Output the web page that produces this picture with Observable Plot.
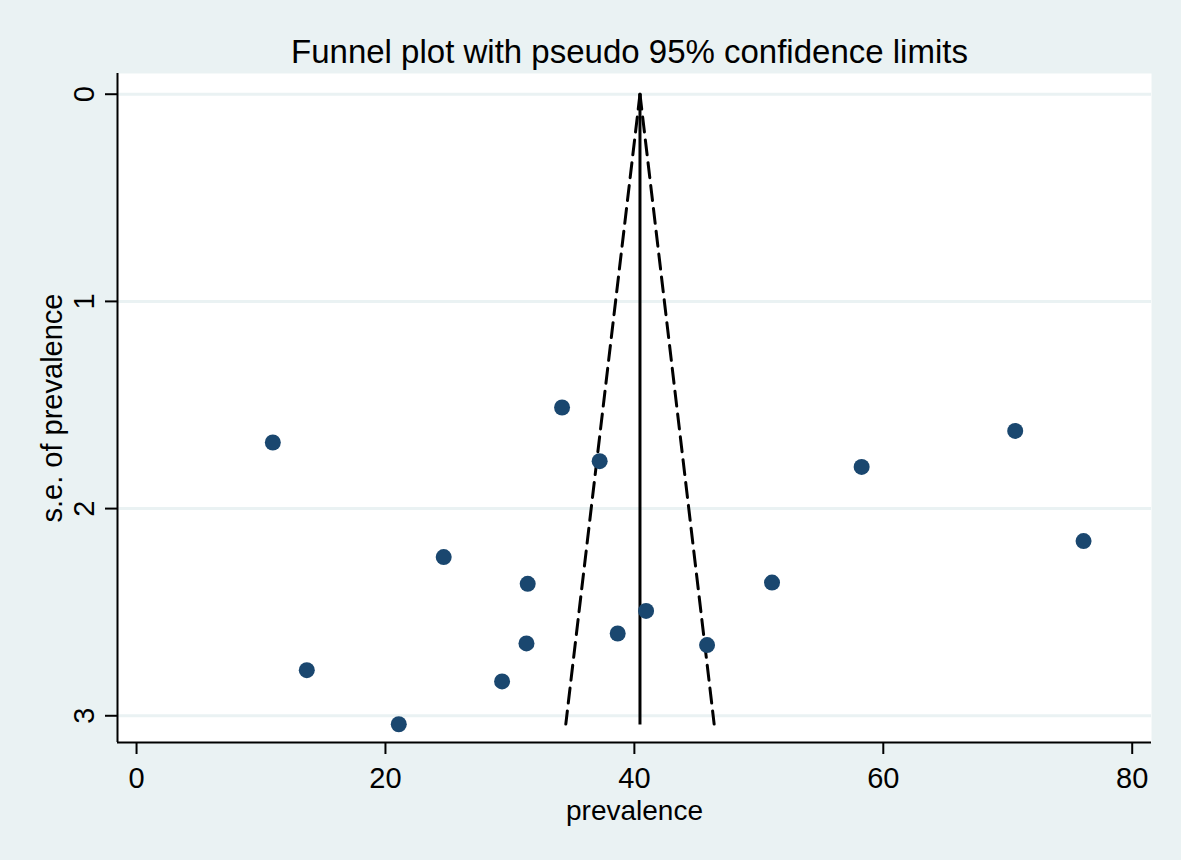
<!DOCTYPE html>
<html><head><meta charset="utf-8">
<script src="https://cdn.jsdelivr.net/npm/d3@7"></script>
<script src="https://cdn.jsdelivr.net/npm/@observablehq/plot@0.6"></script>
<style>
body{margin:0;background:#EAF2F3;font-family:"Liberation Sans",Arial,sans-serif;}
#wrap{position:relative;width:1181px;height:860px;overflow:hidden;}
#title{position:absolute;left:0;top:35px;width:1259px;text-align:center;font-size:33px;line-height:33px;color:#000;white-space:nowrap;}
#chart{position:absolute;left:0;top:73px;}
</style></head><body>
<div id="wrap"><div id="title">Funnel plot with pseudo 95% confidence limits</div><div id="chart"></div></div>
<script>
// study estimates
const prevalence = [10.95, 34.19, 37.21, 70.60, 58.26, 76.09, 24.68, 31.43, 51.06, 40.94, 38.66, 31.33, 45.84, 13.68, 29.37, 21.07];
const se         = [1.681, 1.512, 1.771, 1.625, 1.799, 2.157, 2.234, 2.363, 2.357, 2.494, 2.603, 2.651, 2.659, 2.780, 2.834, 3.041];
// pooled estimate and pseudo 95% limits (end points)
const pooled = 40.45;
const pooledSe = [0, 3.045];
const funnelSe = [0, 3.04];
const funnelLower = [40.45, 34.49];
const funnelUpper = [40.45, 46.41];
// axes
const xTicks = [0, 20, 40, 60, 80];
const yTicks = [0, 1, 2, 3];
const xLabel = "prevalence";
const yLabel = "s.e. of prevalence";
const xDomain = [-1.53, 81.55];
const yDomain = [-0.1, 3.129];

const studies = prevalence.map((p, i) => ({prevalence: p, se: se[i]}));
const lower = funnelSe.map((s, i) => ({se: s, x: funnelLower[i]}));
const upper = funnelSe.map((s, i) => ({se: s, x: funnelUpper[i]}));

const chart = Plot.plot({
  width: 1181,
  height: 787,
  marginTop: 0,
  marginBottom: 118,
  marginLeft: 117,
  marginRight: 30,
  style: {fontFamily: '"Liberation Sans", Arial, sans-serif', background: "transparent", color: "#000", overflow: "visible"},
  x: {domain: xDomain},
  y: {domain: yDomain, reverse: true},
  marks: [
    Plot.frame({fill: "white", stroke: null}),
    Plot.gridY(yTicks, {stroke: "#EAF2F3", strokeOpacity: 1, strokeWidth: 3}),
    Plot.line(lower, {x: "x", y: "se", stroke: "#000", strokeWidth: 3, strokeDasharray: "15,8"}),
    Plot.line(upper, {x: "x", y: "se", stroke: "#000", strokeWidth: 3, strokeDasharray: "15,8"}),
    Plot.ruleX([pooled], {y1: pooledSe[0], y2: pooledSe[1], stroke: "#000", strokeWidth: 3}),
    Plot.dot(studies, {x: "prevalence", y: "se", r: 8, fill: "#1a476f", stroke: null}),
    Plot.ruleX([xDomain[0]], {stroke: "#000", strokeWidth: 2}),
    Plot.ruleY([yDomain[1]], {stroke: "#000", strokeWidth: 2}),
    Plot.axisX({ticks: xTicks, tickSize: 12, tickPadding: 13, fontSize: 29, label: null, strokeWidth: 2}),
    Plot.axisY({ticks: yTicks, tickSize: 12, tickFormat: () => "", label: null, strokeWidth: 2}),
    Plot.text(yTicks, {y: d => d, text: d => String(d), frameAnchor: "left", dx: -24, rotate: -90, textAnchor: "middle", lineAnchor: "bottom", fontSize: 29, fill: "#000"}),
    Plot.text([xLabel], {text: d => d, frameAnchor: "bottom", dy: 77, lineAnchor: "bottom", textAnchor: "middle", fontSize: 28, fill: "#000"}),
    Plot.text([yLabel], {text: d => d, frameAnchor: "left", dx: -56, rotate: -90, lineAnchor: "bottom", textAnchor: "middle", fontSize: 29, fill: "#000"})
  ]
});
document.getElementById("chart").appendChild(chart);
</script>
</body></html>
